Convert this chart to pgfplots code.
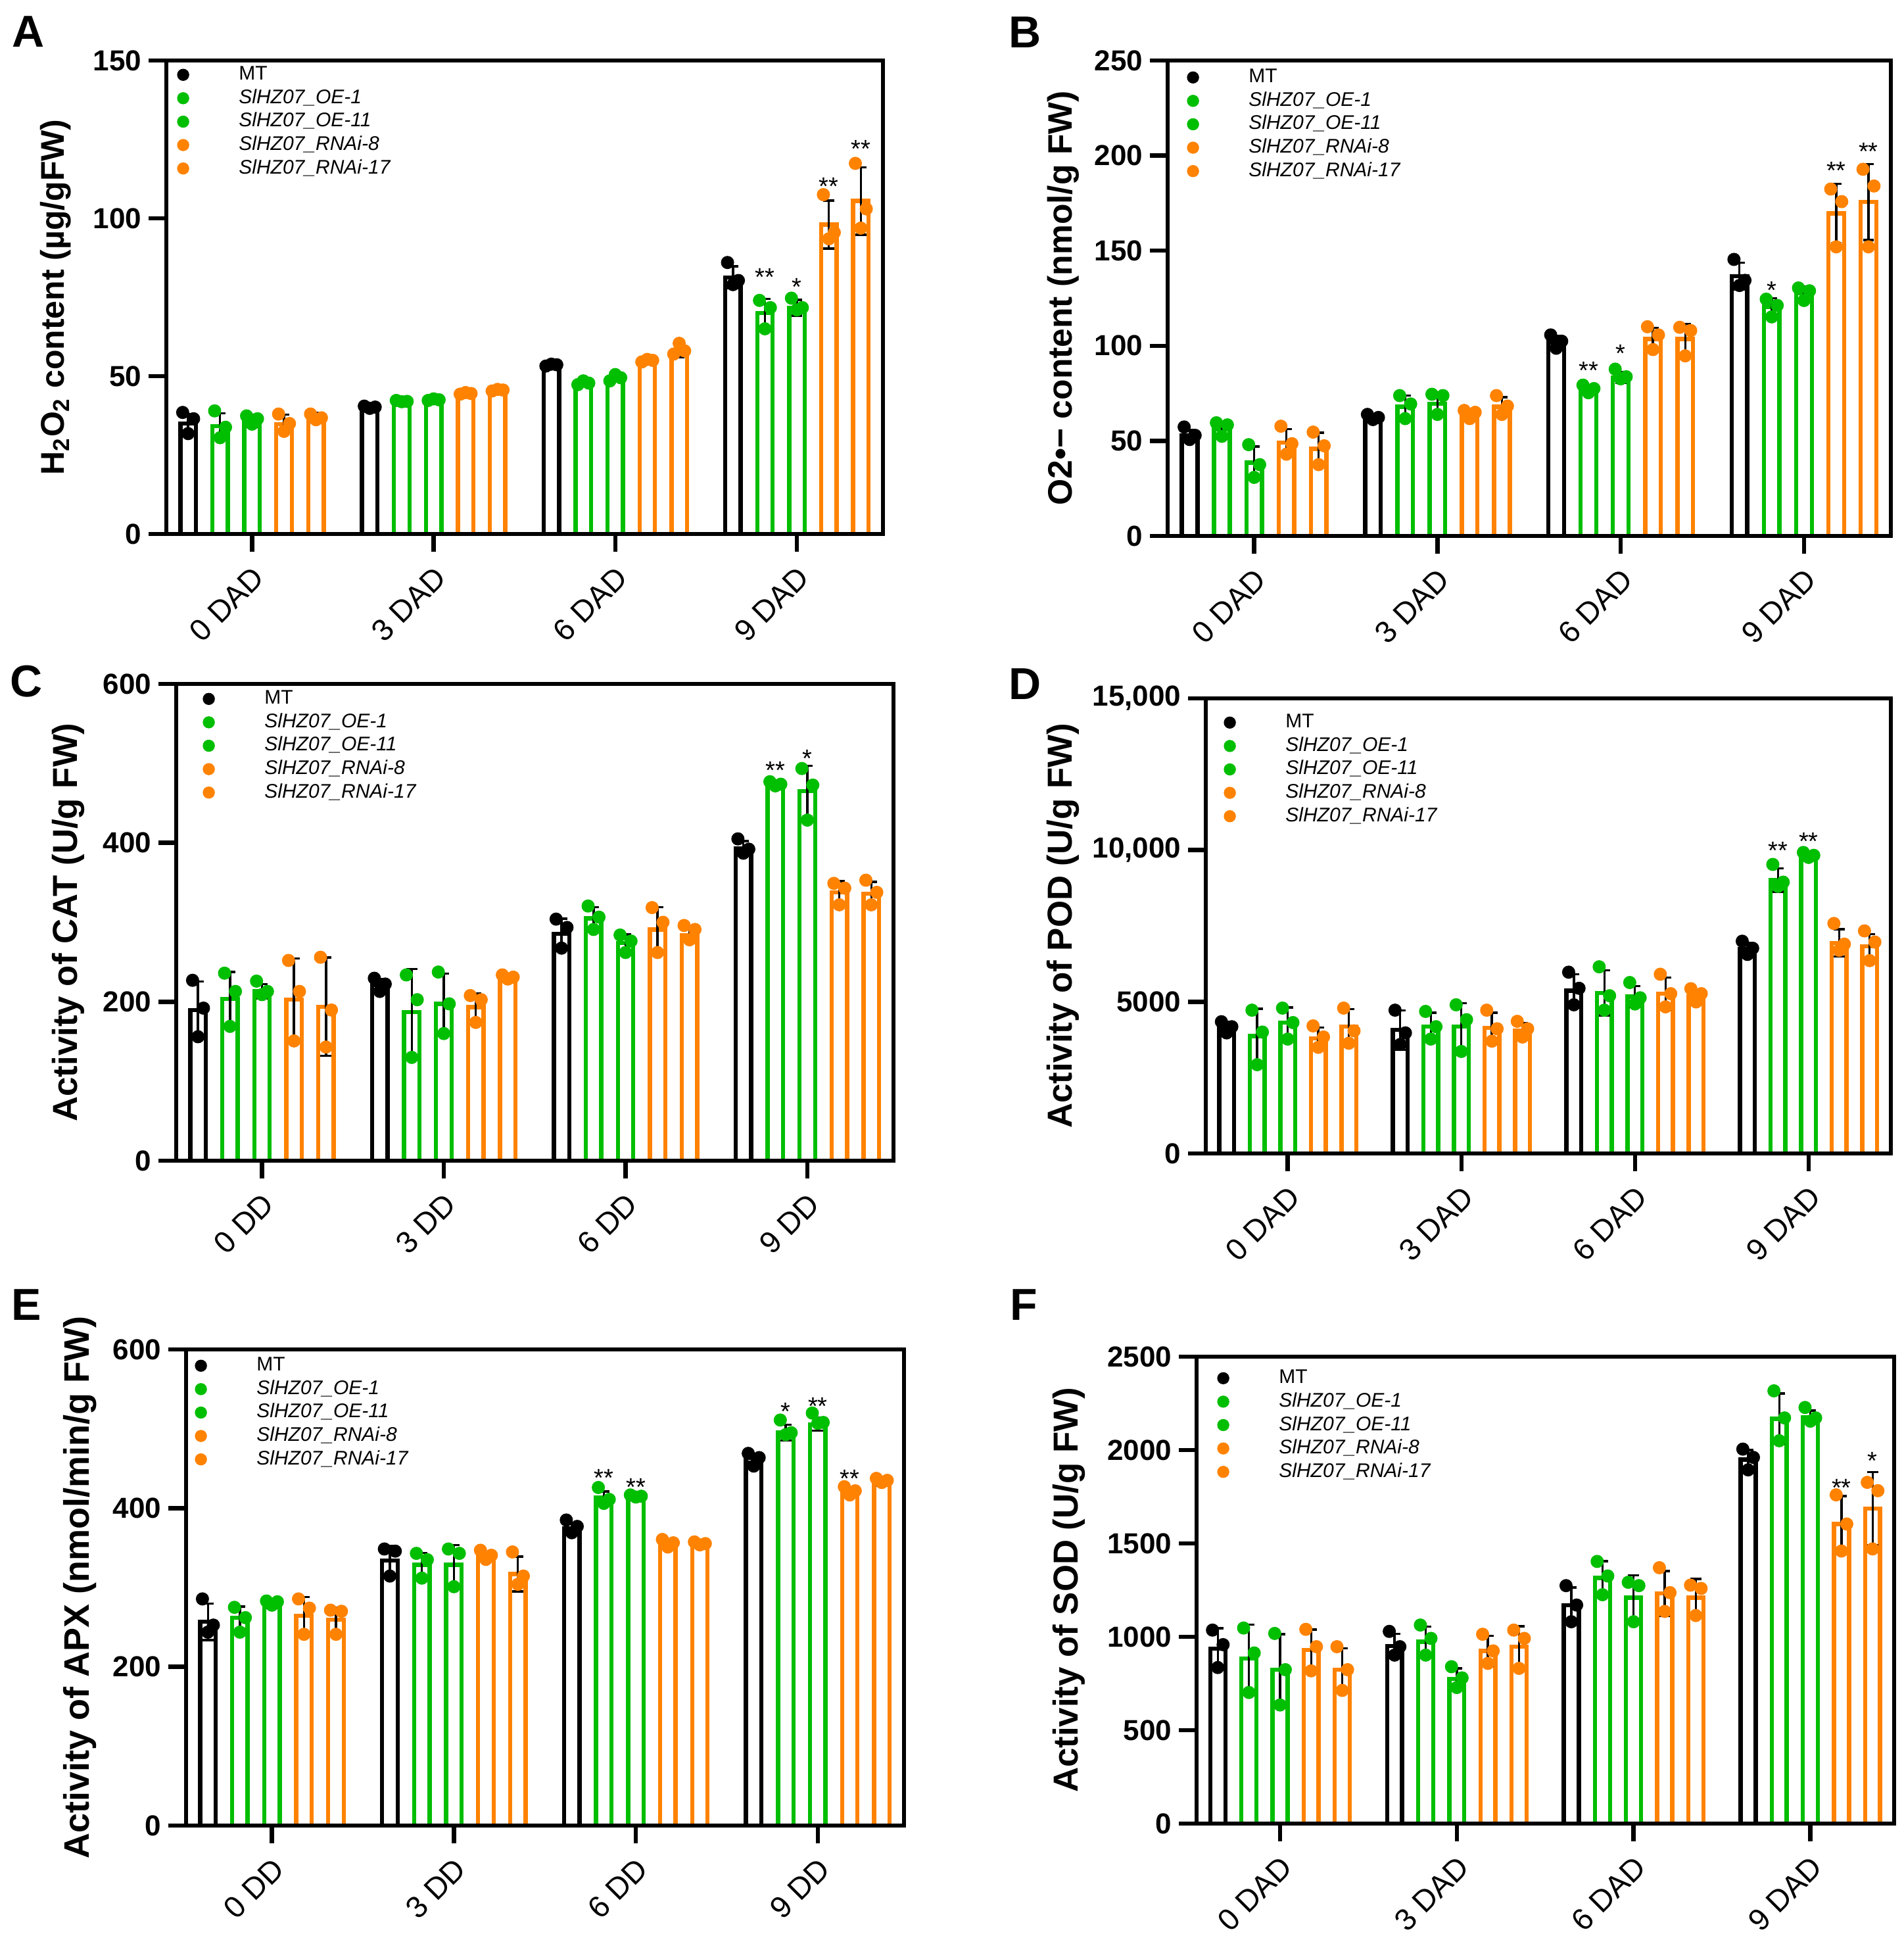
\documentclass[border=0pt]{standalone}
\usepackage{fontspec}
\setmainfont{Liberation Sans}
\usepackage{pgfplots}
\usepackage{pgfplotstable}
\pgfplotsset{compat=1.18}
\definecolor{gr}{RGB}{0,190,0}
\definecolor{og}{RGB}{255,130,0}

\pgfplotstableread{
g m1 e1 a1 b1 c1 m2 e2 a2 b2 c2 m3 e3 a3 b3 c3 m4 e4 a4 b4 c4 m5 e5 a5 b5 c5
0 35 3 38.5 36.5 31.8 34.2 4 39 33.8 30.5 35.8 2 37.4 36.5 34.8 34.8 3 38 35 32.5 36.9 1.5 38 36.8 36.2
1 40.2 0.5 40.5 40.2 39.8 42.1 0.4 42.3 42.0 41.9 42.5 0.4 42.3 42.5 42.8 44.5 0.4 44.3 44.5 44.8 45.5 0.4 45.3 45.6 45.8
2 53.5 0.4 53.2 53.6 53.8 48.0 0.6 47.3 47.8 48.5 49.4 1 48.5 49.5 50.5 54.8 0.4 54.5 55 55.3 57.7 1.8 57 58 60.4
3 81.3 3.5 86 80.3 79 70 4.5 74 71.7 65 71.7 2.5 74.7 71.7 71 98 7.6 107.5 95.5 93.5 105.5 10.7 117.4 103 96.9
}\tA
\pgfplotstableread{
g m1 e1 a1 b1 c1 m2 e2 a2 b2 c2 m3 e3 a3 b3 c3 m4 e4 a4 b4 c4 m5 e5 a5 b5 c5
0 52.9 3 57.3 52.9 50.7 56.2 3 59.5 58.4 52.4 38.5 8.5 48 37.5 30.8 49.1 7 57.7 48.5 43 45.8 8.5 54.6 47.4 37.5
1 61.7 1 63.9 62.3 61.2 67.9 6 73.8 69.4 61.7 69.4 5.5 74.5 73.8 63.9 64.5 2 66 65 61.7 67.9 5 73.8 68.3 63.9
2 101.8 3.5 105.7 102.4 98.7 76.7 1.5 79.3 77.5 75.3 83.3 3 87.7 83.7 82.6 103.5 6 110 105.7 98 103.5 8 109.7 108 94.7
3 136.6 7 145.4 134.4 131.7 120.5 4.5 124.5 121.2 115.2 127.8 3.5 130.4 128.9 123.8 169.6 15.5 182.4 175.8 152 175.6 20 192.8 184 152
}\tB
\pgfplotstableread{
g m1 e1 a1 b1 c1 m2 e2 a2 b2 c2 m3 e3 a3 b3 c3 m4 e4 a4 b4 c4 m5 e5 a5 b5 c5
0 189.6 36 227 192 156 203.6 34 236 213 169 213 9 226 213 209 202.6 52 252 213 150.7 193.8 62 256 189.6 143
1 220.8 8 229.6 222.3 213 187 54 233.8 202.6 130 197.4 38 237.4 197.4 160 193.3 17 207.8 202.6 174 229.6 3 233.8 231 228.6
2 285.7 19 304 293.5 267.5 305 14 320.5 306.5 291 273.8 11 284 276.4 262 291 28 318.5 300 262 284 9 296 291 278
3 393.3 9 405 392 387 472.7 2.5 476.9 473.8 471.7 465 32 493.5 472.7 428.6 337.7 14 349 343 322 336 15 353 337.7 322
}\tC
\pgfplotstableread{
g m1 e1 a1 b1 c1 m2 e2 a2 b2 c2 m3 e3 a3 b3 c3 m4 e4 a4 b4 c4 m5 e5 a5 b5 c5
0 4137 200 4342 4178 3974 3865 900 4723 4001 2926 4314 500 4791 4314 3770 3797 350 4205 3838 3497 4178 580 4791 4042 3634
1 4069 650 4723 3974 3593 4178 460 4682 4178 3770 4178 770 4900 4410 3362 4137 500 4723 4110 3702 4042 250 4355 4110 3838
2 5362 540 5975 5444 4900 5294 740 6152 5199 4723 5172 350 5634 5131 4927 5267 530 5907 5267 4832 5172 230 5430 5267 4995
3 6737 200 6996 6764 6560 9010 380 9527 8942 8806 9826 80 9922 9826 9758 6941 450 7581 6900 6696 6832 400 7336 6968 6356
}\tD
\pgfplotstableread{
g m1 e1 a1 b1 c1 m2 e2 a2 b2 c2 m3 e3 a3 b3 c3 m4 e4 a4 b4 c4 m5 e5 a5 b5 c5
0 256.8 23 285.6 252.6 243.7 262 14 275 262 243.7 276.7 3 283 282 277.7 264.6 23.5 285.6 274 241 259.4 15 271.4 270 241
1 333.8 19 348.5 345.8 314.4 328.5 15 343 335 311.8 328.5 25 348.5 343 301 338 5 346.9 340.6 335.4 317 22 344.8 314.4 304
2 374.7 6 385 377 369 413 8 426 411 406 413 2 416.6 415 414 353.7 3 360.5 356.3 351 353.7 2 357.4 355.3 353.7
3 463.7 5 469 463.7 453 495.2 10 511 495 492.6 505.7 8 519.8 508 507 420.2 6 427 421.8 416.6 431.2 3 437.5 435 432.3
}\tE
\pgfplotstableread{
g m1 e1 a1 b1 c1 m2 e2 a2 b2 c2 m3 e3 a3 b3 c3 m4 e4 a4 b4 c4 m5 e5 a5 b5 c5
0 935.8 110 1036 958 835.5 884.5 180 1047 913.5 702 824.4 190 1018 824 635 929 110 1040 947 817.7 824.4 115 947 824 713
1 951.4 65 1029 947 902 973.6 80 1063 991.5 902 775.4 55 840 780 728.6 924.6 80 1013.7 924.6 857.8 947 110 1036 991.5 831
2 1169.7 95 1274 1170 1080.6 1314.5 90 1403.6 1325.7 1225.4 1209.8 120 1292 1274 1080.6 1232 120 1370 1236.5 1136 1209.8 100 1276.6 1259 1114
3 1949.5 50 2005 1960.6 1893.8 2167.8 135 2317 2172 2049.8 2176.8 35 2228 2172 2154.5 1604 150 1760 1604 1459.3 1686.6 196 1827 1782.4 1470.5
}\tF

\newcommand{\ser}[4]{%
  \addplot[forget plot, ybar, bar width=0.085, bar shift=0pt, draw=#4, fill=white, line width=1.6pt,
    error bars/.cd, y dir=both, y explicit,
    error bar style={draw=black, line width=0.85pt},
    error mark options={rotate=90, draw=black, line width=0.85pt, mark size=2.1pt}]
    table[x expr=\thisrow{g}+(#3), y=m#2, y error=e#2] {#1};
  \addplot[forget plot, only marks, mark=*, mark size=2.3pt, color=#4] table[x expr=\thisrow{g}+(#3)-0.03, y=a#2] {#1};
  \addplot[forget plot, only marks, mark=*, mark size=2.3pt, color=#4] table[x expr=\thisrow{g}+(#3)+0.03, y=b#2] {#1};
  \addplot[forget plot, only marks, mark=*, mark size=2.3pt, color=#4] table[x expr=\thisrow{g}+(#3), y=c#2] {#1};
}
\newcommand{\allser}[1]{%
  \ser{#1}{1}{-0.352}{black}
  \ser{#1}{2}{-0.176}{gr}
  \ser{#1}{3}{0}{gr}
  \ser{#1}{4}{0.176}{og}
  \ser{#1}{5}{0.352}{og}
  \addlegendimage{black}\addlegendentry{MT}
  \addlegendimage{gr}\addlegendentry{\textit{SlHZ07\_OE-1}}
  \addlegendimage{gr}\addlegendentry{\textit{SlHZ07\_OE-11}}
  \addlegendimage{og}\addlegendentry{\textit{SlHZ07\_RNAi-8}}
  \addlegendimage{og}\addlegendentry{\textit{SlHZ07\_RNAi-17}}
}
\newcommand{\st}[3]{\node[font=\fontsize{9.5}{10}\selectfont, anchor=north, inner sep=0pt, yshift=1.3pt] at (axis cs:#1,#2) {#3};}

\pgfplotsset{
  panel/.style={
    scale only axis, anchor=south west,
    xmin=-0.472, xmax=3.474, ymin=0,
    enlargelimits=false,
    axis on top,
    axis line style={line width=1.6pt},
    tick style={line width=1.6pt, black},
    major tick length=6.8pt,
    tick align=outside,
    xtick pos=bottom, ytick pos=left,
    xtick={0,1,2,3},
    scaled y ticks=false,
    /pgf/number format/1000 sep={},
    /pgf/number format/assume math mode=true,
    yticklabel style={font=\fontsize{11}{12}\selectfont\bfseries, inner sep=2.4pt},
    xticklabel style={font=\fontsize{11.6}{13}\selectfont, inner sep=0pt, xshift=2.6pt, yshift=-7.6pt, rotate=45, anchor=east},
    ylabel style={font=\fontsize{13.2}{15}\selectfont\bfseries, anchor=center},
    legend image code/.code={\fill[##1] (0pt,0pt) circle[radius=2.1pt];},
    legend style={draw=none, fill=none, inner sep=0pt, row sep=0.7pt,
      font=\fontsize{7.5}{8}\selectfont,
      nodes={inner sep=0.5pt, text height=5.6pt, text depth=1.6pt},
      /tikz/every odd column/.append style={column sep=18.4pt},
      at={(axis description cs:0,1)}, anchor=north west},
    legend cell align=left,
  }
}

\begin{document}
\begin{tikzpicture}
\useasboundingbox (0,0) rectangle (723.75pt,736.75pt);

% ---------- A ----------
\begin{axis}[panel, at={(63.25pt,533.75pt)}, width=272.5pt, height=180pt,
  ymax=150, ytick={0,50,100,150},
  xticklabels={0 DAD,3 DAD,6 DAD,9 DAD},
  ylabel={H\textsubscript{2}O\textsubscript{2} content (µg/gFW)},
  ylabel style={at={(axis description cs:-0.154,0.5)}, font=\fontsize{12.5}{14}\selectfont\bfseries},
  legend style={xshift=3.9pt, yshift=-1.15pt}]
\allser{\tA}
\st{2.824}{83.2}{**}
\st{3}{80}{*}
\st{3.176}{111.9}{**}
\st{3.352}{123.7}{**}
\end{axis}

% ---------- B ----------
\begin{axis}[panel, at={(444pt,533pt)}, width=275pt, height=180.75pt,
  ymax=250, ytick={0,50,100,150,200,250},
  xticklabels={0 DAD,3 DAD,6 DAD,9 DAD},
  ylabel={O2•− content (nmol/g FW)},
  ylabel style={at={(axis description cs:-0.1445,0.5)}, font=\fontsize{12.9}{15}\selectfont\bfseries},
  legend style={xshift=7.15pt, yshift=-2.15pt}]
\allser{\tB}
\st{2.824}{132}{*}
\st{1.824}{90}{**}
\st{2}{99}{*}
\st{3.176}{195}{**}
\st{3.352}{205}{**}
\end{axis}

% ---------- C ----------
\begin{axis}[panel, at={(67pt,295.5pt)}, width=272.75pt, height=181.25pt,
  ymax=600, ytick={0,200,400,600},
  xticklabels={0 DD,3 DD,6 DD,9 DD},
  ylabel={Activity of CAT (U/g FW)},
  ylabel style={at={(axis description cs:-0.150,0.5)}},
  legend style={xshift=9.9pt, yshift=-1.4pt}]
\allser{\tC}
\st{2.824}{498.7}{**}
\st{3}{513}{*}
\end{axis}

% ---------- D ----------
\begin{axis}[panel, at={(458.5pt,298.25pt)}, width=260.5pt, height=173pt,
  ymax=15000, ytick={0,5000,10000,15000}, yticklabels={0,5000,{10,000},{15,000}},
  xticklabels={0 DAD,3 DAD,6 DAD,9 DAD},
  ylabel={Activity of POD (U/g FW)},
  ylabel style={at={(axis description cs:-0.208,0.5)}},
  legend style={xshift=6.65pt, yshift=-4.9pt}]
\allser{\tD}
\st{2.824}{10167}{**}
\st{3}{10480}{**}
\end{axis}

% ---------- E ----------
\begin{axis}[panel, at={(70.75pt,42.75pt)}, width=273pt, height=181pt,
  ymax=600, ytick={0,200,400,600},
  xticklabels={0 DD,3 DD,6 DD,9 DD},
  ylabel={Activity of APX (nmol/min/g FW)},
  ylabel style={at={(axis description cs:-0.148,0.5)}, font=\fontsize{13.5}{15}\selectfont\bfseries},
  legend style={xshift=3.15pt, yshift=-1.9pt}]
\allser{\tE}
\st{2.824}{529}{*}
\st{3}{535.5}{**}
\st{1.824}{445.4}{**}
\st{2}{433.9}{**}
\st{3.176}{444.4}{**}
\end{axis}

% ---------- F ----------
\begin{axis}[panel, at={(455pt,43.5pt)}, width=265.25pt, height=177.5pt,
  ymax=2500, ytick={0,500,1000,1500,2000,2500},
  xticklabels={0 DAD,3 DAD,6 DAD,9 DAD},
  ylabel={Activity of SOD (U/g FW)},
  ylabel style={at={(axis description cs:-0.183,0.5)}},
  legend style={xshift=7.65pt, yshift=-3.9pt}]
\allser{\tF}
\st{3.176}{1827}{**}
\st{3.352}{1972}{*}
\end{axis}

\begin{scope}[every node/.style={font=\fontsize{17}{18}\selectfont\bfseries, anchor=center, inner sep=0pt}]
\node at (10.75pt,724.75pt) {A};
\node at (389.75pt,724.5pt) {B};
\node at (10pt,477.75pt) {C};
\node at (389.75pt,476.75pt) {D};
\node at (10pt,240.75pt) {E};
\node at (389.25pt,240.75pt) {F};
\end{scope}
\end{tikzpicture}
\end{document}
